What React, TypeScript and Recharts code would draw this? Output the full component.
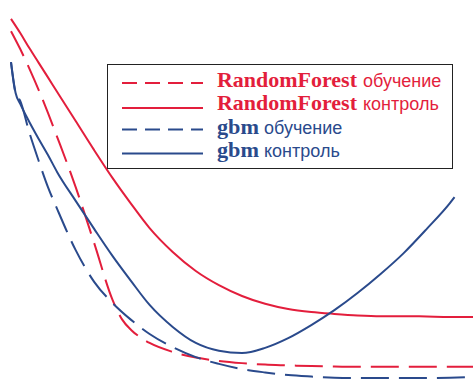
import React from "react";
import { LineChart, Line, XAxis, YAxis, Legend } from "recharts";

// x: iterations (0..100), y: error (0..100)
const rfTrainX = [0, 2, 4, 6, 8, 10, 14, 18, 22, 24, 26, 28, 30, 35, 40, 45, 50, 55, 60, 65, 70, 75, 80, 85, 90, 95, 100];
const rfTrainY = [95.4, 90.6, 85.3, 79.6, 73.5, 67.0, 53.6, 38.6, 23.3, 18.2, 15.3, 13.3, 11.8, 9.4, 7.9, 7.0, 6.4, 6.0, 5.8, 5.6, 5.5, 5.4, 5.4, 5.4, 5.4, 5.4, 5.4];

const rfTestX = [0, 2, 4, 6, 8, 10, 14, 18, 22, 26, 30, 35, 40, 45, 50, 55, 60, 65, 70, 75, 80, 85, 90, 95, 100];
const rfTestY = [98.7, 94.9, 90.8, 86.9, 83.0, 79.1, 71.3, 63.5, 56.0, 49.1, 42.6, 36.2, 31.1, 27.3, 24.4, 22.3, 20.9, 20.1, 19.6, 19.2, 19.0, 19.0, 18.9, 18.8, 18.8];

const gbmTrainX = [0, 1, 2, 4, 6, 8, 10, 14, 18, 22, 26, 30, 35, 40, 45, 50, 55, 60, 65, 70, 75, 80, 85, 90, 95, 100];
const gbmTrainY = [87.1, 78.8, 76.7, 68.1, 60.6, 53.6, 47.7, 36.7, 28.2, 22.5, 18.0, 14.2, 10.7, 8.0, 6.2, 4.8, 3.9, 3.2, 2.8, 2.5, 2.4, 2.4, 2.4, 2.4, 2.5, 2.7];

const gbmTestX = [0, 1, 2, 4, 6, 8, 10, 14, 18, 22, 26, 30, 35, 40, 45, 50, 55, 60, 65, 70, 75, 80, 85, 90, 95, 96];
const gbmTestY = [87.1, 78.8, 75.9, 71.0, 66.5, 62.2, 57.6, 49.9, 42.4, 35.1, 28.4, 22.0, 16.1, 11.8, 9.7, 9.1, 10.5, 13.1, 16.6, 20.6, 25.2, 30.3, 35.9, 42.4, 49.3, 50.9];

const legendItems = [
  { bold: "RandomForest", rest: "обучение", color: "#e31e3c", dash: true },
  { bold: "RandomForest", rest: "контроль", color: "#e31e3c", dash: false },
  { bold: "gbm", rest: "обучение", color: "#2a4a8c", dash: true },
  { bold: "gbm", rest: "контроль", color: "#2a4a8c", dash: false },
];

const toRows = (xs: number[], ys: number[]) => xs.map((x, i) => ({ x, y: ys[i] }));

const rfTrain = toRows(rfTrainX, rfTrainY);
const rfTest = toRows(rfTestX, rfTestY);
const gbmTrain = toRows(gbmTrainX, gbmTrainY);
const gbmTest = toRows(gbmTestX, gbmTestY);

const RED = "#e31e3c";
const BLUE = "#2a4a8c";

const lineYs = [19, 44, 65.5, 89.5];
const baseYs = [22.8, 46.3, 69.8, 93.3];
const restXs = [256, 256, 157, 157];
const boldLens = [140, 140, 42, 42];

const LegendBox = () => (
  <svg width={347} height={106} style={{ display: "block" }}>
    <rect x={0.5} y={0.5} width={345} height={104} fill="#fff" stroke="#222" strokeWidth={1} />
    {legendItems.map((it, i) => (
      <g key={i}>
        <line
          x1={15}
          x2={96}
          y1={lineYs[i]}
          y2={lineYs[i]}
          stroke={it.color}
          strokeWidth={2}
          strokeDasharray={it.dash ? "15 8" : undefined}
        />
        <text
          x={110}
          y={baseYs[i]}
          fill={it.color}
          fontFamily="'Liberation Serif', 'Times New Roman', serif"
          fontWeight="bold"
          fontSize={21}
          textLength={boldLens[i]}
          lengthAdjust="spacingAndGlyphs"
        >
          {it.bold}
        </text>
        <text
          x={restXs[i]}
          y={baseYs[i]}
          fill={it.color}
          fontFamily="'Liberation Sans', Arial, sans-serif"
          fontSize={18}
        >
          {it.rest}
        </text>
      </g>
    ))}
  </svg>
);

export default function App() {
  return (
    <div style={{ position: "absolute", left: 0, top: 0, width: 473, height: 387, background: "#fff" }}>
      <LineChart width={473} height={387} margin={{ top: 14, right: 0, left: 11, bottom: 0 }}>
        <XAxis dataKey="x" type="number" domain={[0, 100]} allowDuplicatedCategory={false} hide />
        <YAxis
          type="number"
          domain={[0, 100]}
          width={0}
          tick={false}
          tickLine={false}
          axisLine={{ stroke: "#777", strokeWidth: 2 }}
        />
        <Legend
          layout="horizontal"
          align="center"
          verticalAlign="middle"
          wrapperStyle={{ position: "absolute", left: 107, top: 64, width: 347, height: 106 }}
          content={() => <LegendBox />}
        />
        <Line data={rfTest} type="monotone" dataKey="y" name="rfTest" stroke={RED} strokeWidth={2} dot={false} isAnimationActive={false} />
        <Line data={rfTrain} type="monotone" dataKey="y" name="rfTrain" stroke={RED} strokeWidth={2} strokeDasharray="28 10" dot={false} isAnimationActive={false} />
        <Line data={gbmTrain} type="monotone" dataKey="y" name="gbmTrain" stroke={BLUE} strokeWidth={2} strokeDasharray="28 10" dot={false} isAnimationActive={false} />
        <Line data={gbmTest} type="monotone" dataKey="y" name="gbmTest" stroke={BLUE} strokeWidth={2} dot={false} isAnimationActive={false} />
      </LineChart>
    </div>
  );
}
